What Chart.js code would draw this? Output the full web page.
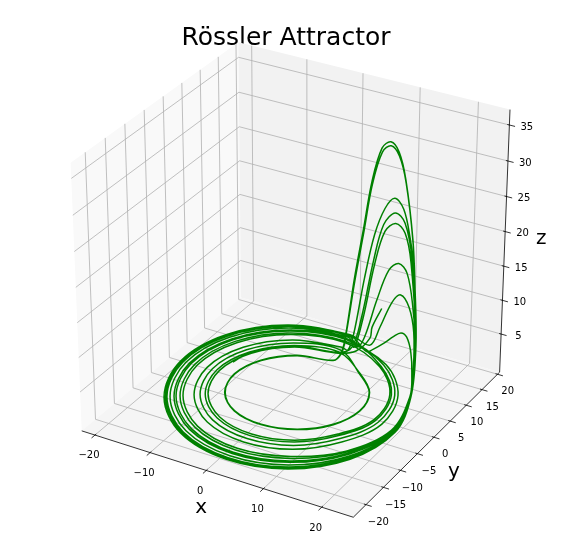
<!DOCTYPE html>
<html>
<head>
<meta charset="utf-8">
<style>html,body{margin:0;padding:0;background:#fff}canvas{display:block}</style>
<script src="https://cdn.jsdelivr.net/npm/chart.js@4/dist/chart.umd.min.js"></script>
</head>
<body>
<canvas id="c" width="572" height="558"></canvas>
<script>
const chartTitle = "Rössler Attractor";
const xTicks = [-20,-10,0,10,20];
const yTicks = [-20,-15,-10,-5,0,5,10,15,20];
const zTicks = [5,10,15,20,25,30,35];
const xLimits = [-22.43,25.35];
const yLimits = [-23.59,20.69];
const zLimits = [-0.73,37.12];

const curveX = [
8.21,6.34,5.5,3.45,
1.29,-5.68,-10.69,-12.32,-10.21,-5.08,1.68,8.28,13.11,15.9,14.48,9.07,
0.63,-8.18,-14.38,-16.21,-13.3,-6.66,1.88,10.08,16.56,19.68,17.5,
16.1,15.2,13.9,12.4,10.65,8.7,5.95,4.93,
0.17,-9.92,-16.94,-18.92,-15.45,-7.76,2.03,11.33,18.02,20.37,17.6,
16.65,15.4,14.15,12.5,11.25,10,8.7,7.15,5.5,3.95,2.2,1.8,
1.75,-3.96,-8.16,-9.65,-8.09,-4.0,1.54,7.04,11.12,12.72,11.38,7.39,
1.08,-6.48,-11.87,-13.56,-11.2,-5.59,1.75,8.85,14.03,16.81,15.22,9.41,
0.45,-8.88,-15.4,-17.29,-14.16,-7.1,1.94,10.58,17.04,19.91,17.51,
16.65,14.63,13.06,11.2,9.15,7,4.5,2.99,
0.21,-9.78,-16.73,-18.7,-15.28,-7.67,2.02,11.23,17.85,20.22,17.55,
16.6,14.7,13.37,11.73,9.79,7.93,6.0,4.4,3.0,2.19,
0.92,-7.08,-12.75,-14.49,-11.94,-5.97,1.79,9.28,14.72,17.56,15.71,9.59,
0.55,-8.48,-14.81,-16.67,-13.67,-6.85,1.91,10.29,16.76,19.76,17.51,
16.3,14.85,13.43,11.55,9.68,7.5,4.79,
0.13,-10.08,-17.17,-19.16,-15.64,-7.86,2.04,11.44,18.19,20.44,17.65,
16.6,15.34,14.06,12.38,11.14,9.89,8.58,7.04,5.36,3.8,2.1,1.68,
1.73,-4.02,-8.25,-9.74,-8.16,-4.04,1.55,7.08,11.19,12.8,11.44,7.45,
1.22,-5.96,-11.1,-12.76,-10.56,-5.26,1.7,8.48,13.43,16.2,14.72,9.18,
0.39,-9.08,-15.69,-17.6,-14.41,-7.23,1.96,10.72,17.24,19.99,17.53,
16.5,14.28,11.97,9.98,7.98,6.07,4.28,2.58,
0.29,-9.48,-16.28,-18.22,-14.9,-7.48,1.99,11.01,17.58,20.14,17.54,
16.55,14.41,11.95,9.9,7.79,5.89,4.05,2.3,
1.24,-5.88,-10.98,-11.8
];
const curveY = [
13.33,13.65,14.5,13.73,
11.85,10.22,5.44,-1.11,-7.55,-12.16,-13.8,-12.17,-7.69,-1.78,5.38,11.52,
15.04,13.12,7.0,-1.45,-9.8,-15.83,-18.05,-16.12,-11.04,-3.06,6.3,
9.23,10.36,11.29,12.13,12.85,13.49,14.73,14.52,
17.26,15.13,8.1,-1.67,-11.37,-18.38,-21.01,-18.87,-12.44,-3.3,6.34,
9.34,10.91,12.17,12.6,12.6,12.26,11.91,11.73,12.17,12.34,12.52,12.04,
9.67,8.23,4.36,-0.88,-6.0,-9.64,-10.89,-9.46,-5.77,-0.69,4.42,8.23,
12.87,11.14,5.94,-1.22,-8.26,-13.33,-15.16,-13.44,-8.58,-2.08,5.61,12.2,
15.92,13.93,7.44,-1.53,-10.42,-16.84,-19.23,-17.22,-11.5,-3.14,6.32,
9.21,11.66,12.45,13.11,13.65,13.84,14.51,14.8,
17.07,14.97,8.01,-1.65,-11.24,-18.17,-20.77,-18.64,-12.26,-3.25,6.33,
9.43,11.69,12.61,13.39,13.99,14.31,14.61,14.43,13.74,13.39,
13.63,11.84,6.32,-1.3,-8.8,-14.21,-16.17,-14.38,-9.25,-2.34,5.76,12.53,
15.41,13.46,7.2,-1.48,-10.06,-16.26,-18.56,-16.58,-11.23,-3.09,6.32,
9.32,11.77,12.65,13.3,13.93,14.09,15.77,
17.45,15.31,8.2,-1.7,-11.5,-18.61,-21.27,-19.11,-12.61,-3.32,6.36,
9.41,11.0,12.27,12.69,12.68,12.34,11.98,11.81,12.26,12.43,12.62,12.13,
9.73,8.3,4.4,-0.89,-6.05,-9.72,-10.98,-9.56,-5.84,-0.72,4.44,8.34,
12.21,10.54,5.61,-1.15,-7.8,-12.57,-14.28,-12.62,-8.0,-1.88,5.46,11.74,
16.18,14.15,7.57,-1.56,-10.6,-17.14,-19.57,-17.53,-11.69,-3.17,6.32,
9.52,11.46,13.51,14.09,14.33,14.64,14.38,14.59,
16.69,14.61,7.82,-1.61,-10.96,-17.72,-20.25,-18.17,-12.02,-3.22,6.33,
9.47,11.53,13.5,14.05,14.24,14.54,14.25,14.43,
12.11,10.45,5.56,1.91
];
const curveZ = [
8,4.6,2.4,0.3,
0.3,0.3,0.3,0.3,0.3,0.3,0.3,0.3,0.3,0.3,0.3,0.3,
0.3,0.3,0.3,0.3,0.3,0.3,0.3,0.3,0.3,0.3,0.3,
2.2,4.5,6.0,5.9,4.6,2.9,0.7,0.2,
0.3,0.3,0.3,0.3,0.3,0.3,0.3,0.3,0.3,0.3,0.3,
6.3,13.2,19.5,27.4,30.9,32.2,31.2,26.4,19,11.7,2.4,0.3,
0.3,0.3,0.3,0.3,0.3,0.3,0.3,0.3,0.3,0.3,0.3,0.3,
0.3,0.3,0.3,0.3,0.3,0.3,0.3,0.3,0.3,0.3,0.3,0.3,
0.3,0.3,0.3,0.3,0.3,0.3,0.3,0.3,0.3,0.3,0.3,
5.6,10.6,14.7,15.4,13.7,8.7,2.3,0.3,
0.3,0.3,0.3,0.3,0.3,0.3,0.3,0.3,0.3,0.3,0.3,
6.3,15.9,19.8,23.2,24.1,22.1,17.8,11.1,2.8,0.3,
0.3,0.3,0.3,0.3,0.3,0.3,0.3,0.3,0.3,0.3,0.3,0.3,
0.3,0.3,0.3,0.3,0.3,0.3,0.3,0.3,0.3,0.3,0.3,
2.7,6.7,9.7,10.8,9,4.7,0.6,
0.3,0.3,0.3,0.3,0.3,0.3,0.3,0.3,0.3,0.3,0.3,
6.4,13.4,19.8,27.8,31.4,32.7,31.7,26.8,19.3,11.9,2.4,0.3,
0.3,0.3,0.3,0.3,0.3,0.3,0.3,0.3,0.3,0.3,0.3,0.3,
0.3,0.3,0.3,0.3,0.3,0.3,0.3,0.3,0.3,0.3,0.3,0.3,
0.3,0.3,0.3,0.3,0.3,0.3,0.3,0.3,0.3,0.3,0.3,
6.2,16.9,19.8,20.5,18.8,13.5,5.2,0.3,
0.3,0.3,0.3,0.3,0.3,0.3,0.3,0.3,0.3,0.3,0.3,
6.3,17.3,21.2,22,19.8,13.9,5.2,0.3,
0.3,0.3,0.3,0.3
];

// view (matplotlib default: elev 30, azim -60, dist 10) and canvas fit
const viewDist = 10, scaleX = 3135, scaleY = 3062, originX = 293.9, originY = 271.7;
const canvasW = 572, canvasH = 558, plotTop = 52;

function project(x, y, z) {
  const dx = (x - xLimits[0]) / (xLimits[1] - xLimits[0]) - 0.5;
  const dy = (y - yLimits[0]) / (yLimits[1] - yLimits[0]) - 0.5;
  const dz = (z - zLimits[0]) / (zLimits[1] - zLimits[0]) - 0.5;
  const a = 0.8660254 * dx + 0.5 * dy;
  const b = -0.25 * dx + 0.4330127 * dy + 0.8660254 * dz;
  const c = 0.4330127 * dx - 0.75 * dy + 0.5 * dz;
  const w = viewDist - c;
  return { x: a / w, y: b / w };
}
const gap = { x: NaN, y: NaN };
const [x0, x1] = xLimits, [y0, y1] = yLimits, [z0, z1] = zLimits;

const gridPts = [];
xTicks.forEach(t => gridPts.push(project(t,y0,z0), project(t,y1,z0), project(t,y1,z1), gap));
yTicks.forEach(t => gridPts.push(project(x1,t,z0), project(x0,t,z0), project(x0,t,z1), gap));
zTicks.forEach(t => gridPts.push(project(x0,y0,t), project(x0,y1,t), project(x1,y1,t), gap));

const outF = 0.02, inF = 0.0075;
const xr = x1 - x0, yr = y1 - y0;
const axisPts = [
  project(x0,y0,z0), project(x1,y0,z0), project(x1,y1,z0), project(x1,y1,z1)
];
const tickPts = [];
xTicks.forEach(t => tickPts.push(project(t,y0-outF*yr,z0), project(t,y0+inF*yr,z0), gap));
yTicks.forEach(t => tickPts.push(project(x1+outF*xr,t,z0), project(x1-inF*xr,t,z0), gap));
zTicks.forEach(t => tickPts.push(project(x1+outF*xr,y1,t), project(x1-inF*xr,y1,t), gap));

const curvePts = curveX.map((v,i) => project(v, curveY[i], curveZ[i]));

const panes = [
  { color:'#f9f9f9', pts:[[x0,y0,z0],[x0,y1,z0],[x0,y1,z1],[x0,y0,z1]] },
  { color:'#f2f2f2', pts:[[x0,y1,z0],[x1,y1,z0],[x1,y1,z1],[x0,y1,z1]] },
  { color:'#f5f5f5', pts:[[x0,y0,z0],[x1,y0,z0],[x1,y1,z0],[x0,y1,z0]] }
];

const fontFam = '"DejaVu Sans"';
const boxPlugin = {
  id:'box3d',
  beforeDatasetsDraw(chart){
    const {ctx, scales:{x:sx,y:sy}} = chart;
    ctx.save();
    panes.forEach(p=>{
      ctx.beginPath();
      p.pts.forEach((q,i)=>{
        const r=project(q[0],q[1],q[2]);
        const px=sx.getPixelForValue(r.x), py=sy.getPixelForValue(r.y);
        i?ctx.lineTo(px,py):ctx.moveTo(px,py);
      });
      ctx.closePath();
      ctx.fillStyle=p.color;
      ctx.fill();
    });
    ctx.restore();
  },
  afterDatasetsDraw(chart){
    const {ctx, scales:{x:sx,y:sy}} = chart;
    const put=(txt,r,dx,dy,size)=>{
      ctx.font=size+'px '+fontFam;
      ctx.fillText(txt,sx.getPixelForValue(r.x)+dx,sy.getPixelForValue(r.y)+dy);
    };
    ctx.save();
    ctx.fillStyle='#000';
    ctx.textAlign='center';
    ctx.textBaseline='middle';
    const lab=v=>String(v).replace('-','\u2212');
    xTicks.forEach(t=>put(lab(t),project(t,y0,z0),-6,20.8,10));
    yTicks.forEach((t,i)=>put(lab(t),project(x1,t,z0),12.3-i/8*2.1,17.6,10));
    zTicks.forEach(t=>put(lab(t),project(x1,y1,t),17.4,2.2,10));
    put('x',project(0,y0,z0),-5,37.5,20);
    put('y',project(x1,0,z0),20,34.3,20);
    put('z',project(x1,y1,20),36,7,20);
    ctx.restore();
  }
};

new Chart(document.getElementById('c').getContext('2d'),{
  type:'scatter',
  data:{datasets:[
    {label:'trajectory',data:curvePts,showLine:true,borderColor:'#008000',borderWidth:1.5,pointRadius:0,tension:0.35,clip:false,order:0,borderJoinStyle:'round'},
    {label:'axes',data:axisPts,showLine:true,borderColor:'#000',borderWidth:0.8,pointRadius:0,clip:false,order:1},
    {label:'ticks',data:tickPts,showLine:true,borderColor:'#000',borderWidth:0.8,pointRadius:0,clip:false,order:1},
    {label:'grid',data:gridPts,showLine:true,borderColor:'#b0b0b0',borderWidth:0.8,pointRadius:0,clip:false,order:2}
  ]},
  options:{
    responsive:false,animation:false,
    devicePixelRatio:1,
    layout:{padding:0},
    elements:{line:{capBezierPoints:false}},
    plugins:{
      legend:{display:false},tooltip:{enabled:false},
      title:{display:true,text:chartTitle,color:'#000',font:{family:'DejaVu Sans',size:25,weight:'normal',lineHeight:1.2},padding:{top:23,bottom:-1}}
    },
    scales:{
      x:{type:'linear',display:false,min:(0-originX)/scaleX,max:(canvasW-originX)/scaleX},
      y:{type:'linear',display:false,min:(originY-canvasH)/scaleY,max:(originY-plotTop)/scaleY}
    }
  },
  plugins:[boxPlugin]
});
</script>
</body>
</html>
